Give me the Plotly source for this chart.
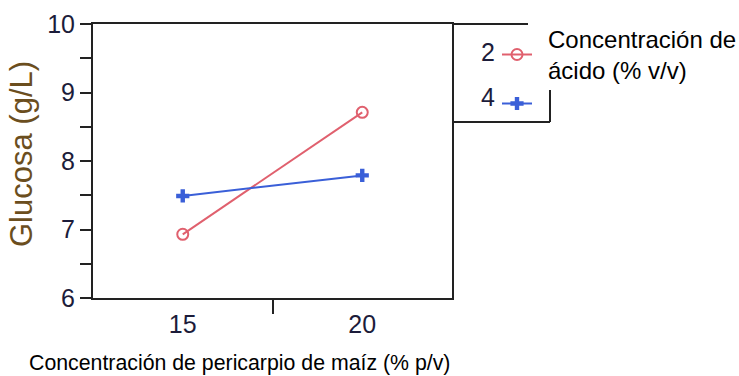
import plotly.graph_objects as go

# Canvas size in pixels
W, H = 739, 376

# Data: glucose (g/L) vs corn pericarp concentration, one series per acid level
pericarpio = [15, 20]
acido_labels = ["2", "4"]
glucosa_acido2 = [6.93, 8.71]
glucosa_acido4 = [7.49, 7.79]
y_ticks = [6, 7, 8, 9, 10]
x_ticks = [15, 20]
x_mid_tick = [17.5]

RED = "#e0606e"
BLUE = "#3a5fd8"
FRAME = "#222222"
TICKTXT = "#1c1c3a"
DIGITS = "Liberation Sans, Arial, sans-serif"
SANS = "Liberation Sans, Arial, sans-serif"


def fx(p):
    return p / W


def fy(p):
    return 1 - p / H


fig = go.Figure()
fig.add_trace(go.Scatter(
    x=pericarpio, y=glucosa_acido2, name=acido_labels[0], mode="lines+markers",
    legendgroup="a2",
    line=dict(color=RED, width=2),
    marker=dict(symbol="circle-open", size=11, color=RED, line=dict(width=2, color=RED)),
))
fig.add_trace(go.Scatter(
    x=pericarpio, y=glucosa_acido4, name=acido_labels[1], mode="lines+markers",
    legendgroup="a4",
    line=dict(color=BLUE, width=2),
    marker=dict(symbol="cross", size=11, color=BLUE),
))

fig.update_layout(
    width=W, height=H,
    margin=dict(l=0, r=0, t=0, b=0, autoexpand=False),
    paper_bgcolor="white", plot_bgcolor="white",
    showlegend=True,
    # keys only; the labels are drawn separately to the left of each key
    legend=dict(
        x=fx(497), y=fy(40), xanchor="left", yanchor="top",
        bgcolor="rgba(0,0,0,0)", borderwidth=0,
        font=dict(family=DIGITS, size=8, color="rgba(0,0,0,0)"),
        tracegroupgap=30, itemwidth=30,
    ),
    xaxis=dict(
        domain=[fx(93), fx(452)], range=[12.5, 22.5],
        tickmode="array", tickvals=x_ticks, ticktext=[str(v) for v in x_ticks],
        ticks="outside", ticklen=3, tickcolor="rgba(0,0,0,0)",
        minor=dict(tickmode="array", tickvals=x_mid_tick, ticks="outside",
                   ticklen=14, tickwidth=2, tickcolor=FRAME),
        showline=True, linecolor=FRAME, linewidth=2, mirror=True,
        showgrid=False, zeroline=False, automargin=False,
        tickfont=dict(family=DIGITS, size=25, color=TICKTXT),
    ),
    yaxis=dict(
        domain=[fy(298), fy(24)], range=[6, 10],
        tickmode="array", tickvals=y_ticks,
        ticks="outside", ticklen=11, tickwidth=2, tickcolor=FRAME,
        minor=dict(dtick=0.5, ticks="outside", ticklen=11, tickwidth=2, tickcolor=FRAME),
        showline=True, linecolor=FRAME, linewidth=2, mirror=True,
        showgrid=False, zeroline=False, automargin=False,
        tickfont=dict(family=DIGITS, size=25, color=TICKTXT),
    ),
)

# Frame around the legend, joined to the plot's right edge
frame_lines = [
    (452, 24, 528, 24),
    (550, 90, 550, 122),
    (452, 122, 550, 122),
]
for x0, y0, x1, y1 in frame_lines:
    fig.add_shape(type="line", xref="paper", yref="paper",
                  x0=fx(x0), y0=fy(y0), x1=fx(x1), y1=fy(y1),
                  line=dict(color=FRAME, width=2))

# Legend labels drawn to the left of their keys
for label, yc in zip(acido_labels, [52, 97]):
    fig.add_annotation(text=label, xref="paper", yref="paper",
                       x=fx(497), y=fy(yc), xanchor="right", yanchor="middle",
                       showarrow=False,
                       font=dict(family=DIGITS, size=25, color=TICKTXT))

# Legend title
fig.add_annotation(text="Concentración de<br>ácido (% v/v)", xref="paper", yref="paper",
                   x=fx(546), y=fy(55), xanchor="left", yanchor="middle", align="left",
                   showarrow=False, bgcolor="white",
                   font=dict(family=SANS, size=24, color="black"))

# Axis titles
fig.add_annotation(text="Concentración de pericarpio de maíz (% p/v)", xref="paper", yref="paper",
                   x=fx(239), y=0, xanchor="center", yanchor="bottom", borderpad=0,
                   showarrow=False, font=dict(family=SANS, size=21.3, color="black"))
fig.add_annotation(text="Glucosa (g/L)", xref="paper", yref="paper",
                   x=fx(22), y=fy(154), xanchor="center", yanchor="middle", textangle=-90,
                   showarrow=False, font=dict(family=SANS, size=31, color="#6b4e1e"))

fig.write_html("out.html")
